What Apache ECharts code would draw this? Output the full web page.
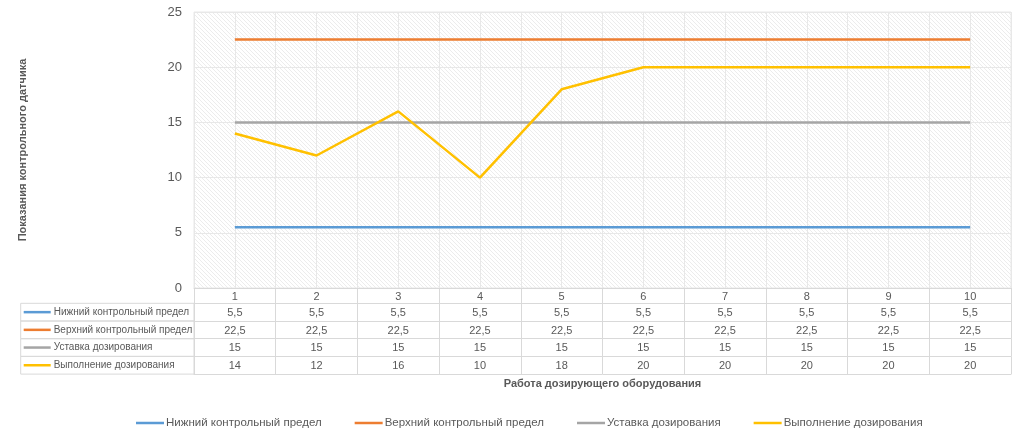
<!DOCTYPE html>
<html><head><meta charset="utf-8">
<script src="https://cdn.jsdelivr.net/npm/echarts@6/dist/echarts.min.js"></script>
<style>html,body{margin:0;padding:0;background:#fff}#c{width:1024px;height:436px}</style>
</head><body><div id="c"></div>
<script>
const categories = ['1','2','3','4','5','6','7','8','9','10'];
const lowerLimit = [5.5,5.5,5.5,5.5,5.5,5.5,5.5,5.5,5.5,5.5];
const upperLimit = [22.5,22.5,22.5,22.5,22.5,22.5,22.5,22.5,22.5,22.5];
const setpoint = [15,15,15,15,15,15,15,15,15,15];
const actual = [14,12,16,10,18,20,20,20,20,20];
const seriesNames = ['Нижний контрольный предел','Верхний контрольный предел','Уставка дозирования','Выполнение дозирования'];
const seriesColors = ['#5B9BD5','#ED7D31','#A5A5A5','#FFC000'];
const seriesData = [lowerLimit, upperLimit, setpoint, actual];
const yMin = 0, yMax = 25, yStep = 5;
const xTitle = 'Работа дозирующего оборудования';
const yTitle = 'Показания контрольного датчика';

// hatch pattern for plot background
const pc = document.createElement('canvas');
pc.width = 4; pc.height = 4;
const g = pc.getContext('2d');
g.fillStyle = '#ffffff'; g.fillRect(0,0,4,4);
g.strokeStyle = '#ececec'; g.lineWidth = 1;
g.beginPath(); g.moveTo(-1,-1); g.lineTo(5,5); g.stroke();
g.beginPath(); g.moveTo(-1,3); g.lineTo(1,5); g.stroke();
g.beginPath(); g.moveTo(3,-1); g.lineTo(5,1); g.stroke();

const FONT = 'Liberation Sans';
const TXT = '#595959';
const LINE = '#d9d9d9';
const headerH = 15.3, rowH = 17.7;
const fmt = v => String(v).replace('.', ',');

const xAxes = [{
  type: 'category', data: categories, position: 'bottom', boundaryGap: true,
  axisLine: {show: true, lineStyle: {color: LINE}},
  axisTick: {show: true, interval: 0, length: headerH, lineStyle: {color: LINE}},
  axisLabel: {interval: 0, margin: 3, color: TXT, fontSize: 11, fontFamily: FONT},
  splitLine: {show: false}
}];
seriesData.forEach((arr, i) => {
  xAxes.push({
    type: 'category', data: categories, position: 'bottom', boundaryGap: true,
    offset: headerH + rowH * i,
    axisLine: {show: true, lineStyle: {color: LINE}},
    axisTick: {show: true, interval: 0, length: rowH, lineStyle: {color: LINE}},
    axisLabel: {interval: 0, margin: 4, color: TXT, fontSize: 11, fontFamily: FONT,
      formatter: (val, idx) => fmt(arr[idx])},
    splitLine: {show: false},
    name: '{k|}{g|}{t|' + seriesNames[i] + '}',
    nameLocation: 'start', nameGap: 0,
    nameTextStyle: {
      align: 'right', verticalAlign: 'top',
      height: rowH, lineHeight: rowH,
      padding: [0, 2, 0, 3],
      borderColor: LINE, borderWidth: 1,
      rich: {
        k: {width: 27, height: 2.5, backgroundColor: seriesColors[i], align: 'left'},
        g: {width: 3, align: 'left'},
        t: {width: 138.3, fontSize: 10, color: TXT, fontFamily: FONT, align: 'left', lineHeight: rowH}
      }
    }
  });
});
xAxes.push({
  type: 'category', data: categories, position: 'bottom', boundaryGap: true,
  offset: headerH + rowH * seriesData.length,
  axisLine: {show: true, lineStyle: {color: LINE}},
  axisTick: {show: false}, axisLabel: {show: false}, splitLine: {show: false},
  name: xTitle, nameLocation: 'middle', nameGap: 4,
  nameTextStyle: {color: TXT, fontSize: 11, fontWeight: 'bold', fontFamily: FONT}
});
// half-category grid lines
xAxes.push({
  type: 'value', position: 'top', min: 0, max: categories.length * 2, interval: 1,
  axisLine: {show: false}, axisTick: {show: false}, axisLabel: {show: false},
  splitLine: {show: true, lineStyle: {color: '#e8e8e8', width: 1}}
});

const option = {
  animation: false,
  textStyle: {fontFamily: FONT},
  grid: {left: 194, right: 13, top: 12, bottom: 148, show: true,
    backgroundColor: {image: pc, repeat: 'repeat'}, borderColor: '#e8e8e8', borderWidth: 1,
    outerBoundsMode: 'none'},
  legend: {
    left: 131, top: 412, icon: 'rect', itemWidth: 28, itemHeight: 2.5, itemGap: 33,
    data: seriesNames,
    textStyle: {color: TXT, fontSize: 11.5, fontFamily: FONT, padding: [0,0,0,-3]}
  },
  xAxis: xAxes,
  yAxis: {
    type: 'value', min: yMin, max: yMax, interval: yStep,
    axisLine: {show: false}, axisTick: {show: false},
    axisLabel: {color: TXT, fontSize: 13, margin: 12, fontFamily: FONT},
    splitLine: {show: true, lineStyle: {color: '#e8e8e8'}},
    name: yTitle, nameLocation: 'middle', nameGap: 166,
    nameTextStyle: {color: TXT, fontSize: 11, fontWeight: 'bold', fontFamily: FONT}
  },
  series: seriesData.map((arr, i) => ({
    name: seriesNames[i], type: 'line', data: arr, xAxisIndex: 0, yAxisIndex: 0,
    symbol: 'none', lineStyle: {width: 2.5, color: seriesColors[i]},
    itemStyle: {color: seriesColors[i]}, z: 3 + i
  }))
};
const chart = echarts.init(document.getElementById('c'), null, {renderer: 'canvas'});
chart.setOption(option);
</script></body></html>
